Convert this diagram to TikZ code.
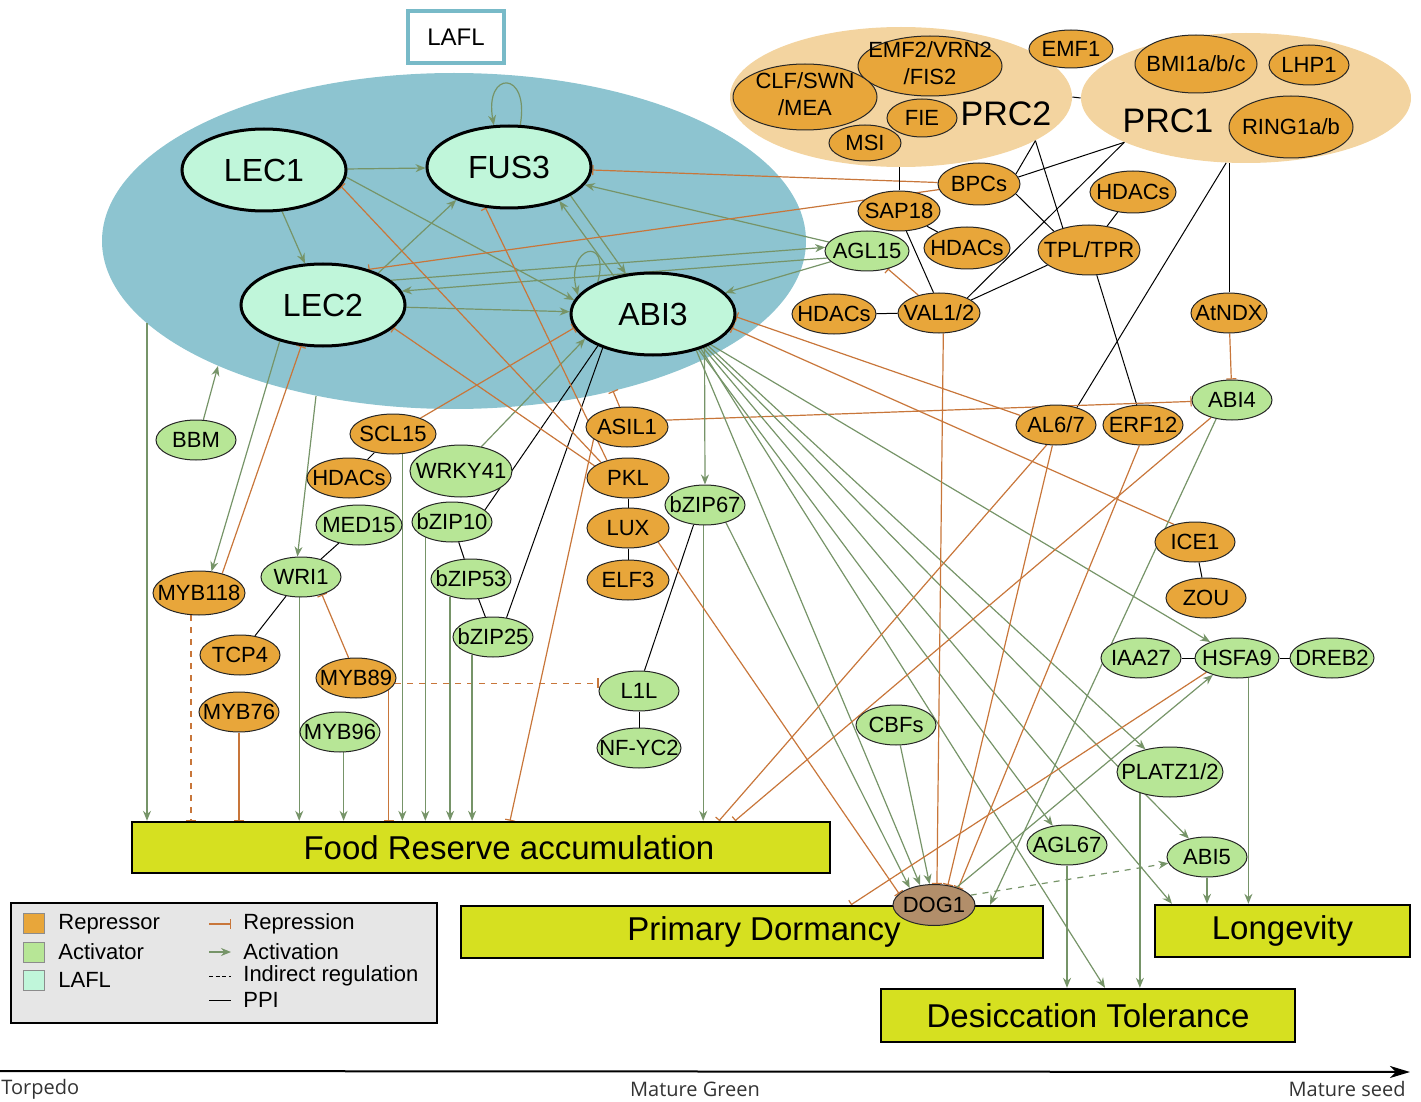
\documentclass[tikz,border=0pt]{standalone}
\usepackage{fontspec}
\setmainfont{Liberation Sans}
\newfontfamily\axisfont{Open Sans}
\usetikzlibrary{arrows.meta,shapes.geometric}

\definecolor{laflgroup}{RGB}{141,196,208}
\definecolor{laflfill}{RGB}{192,246,218}
\definecolor{laflframe}{RGB}{120,186,200}
\definecolor{prcgroup}{RGB}{243,212,160}
\definecolor{repfill}{RGB}{232,166,58}
\definecolor{actfill}{RGB}{183,230,150}
\definecolor{dogfill}{RGB}{178,142,106}
\definecolor{traitfill}{RGB}{214,224,32}
\definecolor{actline}{RGB}{118,148,104}
\definecolor{repline}{RGB}{200,118,58}
\definecolor{legendfill}{RGB}{230,230,230}

\newcommand{\genefont}{\fontsize{11}{13.5}\selectfont}
\newcommand{\corefont}{\fontsize{16}{18}\selectfont}
\newcommand{\traitfont}{\fontsize{16.5}{18}\selectfont}
\newcommand{\twoline}[2]{\begin{tabular}{@{}c@{}}#1\\#2\end{tabular}}

\pgfdeclarelayer{groups}
\pgfdeclarelayer{edges}
\pgfsetlayers{groups,edges,main}

\tikzset{
  gene/.style={ellipse, draw=black!85, line width=0.5pt, inner sep=0pt,
    minimum width=40pt, minimum height=20pt, font=\genefont,
    execute at begin node={\hbox to 0pt\bgroup\hss},
    execute at end node={\hss\egroup}},
  repr/.style={gene, fill=repfill},
  actv/.style={gene, fill=actfill},
  core/.style={ellipse, draw, line width=1.5pt, fill=laflfill, inner sep=0pt,
    minimum width=82pt, minimum height=41pt, font=\corefont},
  cluster/.style={ellipse, inner sep=0pt},
  trait/.style={rectangle, draw, line width=1.2pt, fill=traitfill, inner sep=0pt,
    font=\traitfont},
  act/.style={actline, line width=0.6pt, -{Stealth[length=5pt,width=4pt]}},
  rep/.style={repline, line width=0.6pt, -{Bar[width=5pt]}},
  ppi/.style={black, line width=0.5pt},
  swatch/.style={draw=black!45, line width=0.4pt, minimum width=10.5pt,
    minimum height=10pt, inner sep=0pt},
  keytext/.style={anchor=west, inner sep=0pt, font=\fontsize{11}{13}\selectfont},
  axistext/.style={inner sep=0pt, text=black!80, font=\axisfont\fontsize{10}{12}\selectfont}
}

\begin{document}
\begin{tikzpicture}[x=0.5pt,y=-0.5pt]
\useasboundingbox (0,0) rectangle (1421,1102);

\begin{pgfonlayer}{groups}
  \node[cluster, fill=laflgroup, minimum width=352pt, minimum height=168pt] (lafl) at (454,241) {};
  \node[cluster, fill=prcgroup, minimum width=171pt, minimum height=70pt] (prc2) at (901,97) {};
  \node[cluster, fill=prcgroup, minimum width=165pt, minimum height=65pt] (prc1) at (1246,98) {};
\end{pgfonlayer}

\node[draw=laflframe, line width=2pt, fill=white, minimum width=48pt, minimum height=26pt,
      font=\fontsize{12}{14}\selectfont] (lafl-tag) at (456,37) {LAFL};

\node[core] (lec1) at (264,170) {LEC1};
\node[core] (fus3) at (509,167) {FUS3};
\node[core] (lec2) at (323,305) {LEC2};
\node[core] (abi3) at (653,314) {ABI3};

\node[repr, minimum width=72pt, minimum height=30pt, inner ysep=-6pt] (emf2) at (930,66) {\twoline{EMF2/VRN2}{/FIS2}};
\node[repr, minimum width=72pt, minimum height=33pt, inner ysep=-6pt] (clf) at (805,97) {\twoline{CLF/SWN}{/MEA}};
\node[repr, minimum width=35pt, minimum height=19pt] (fie) at (922,118) {FIE};
\node[repr, minimum width=36pt, minimum height=18pt] (msi) at (865,143) {MSI};
\node[font=\fontsize{17}{20}\selectfont] (prc2-name) at (1006,114) {PRC2};
\node[repr, minimum width=42pt, minimum height=19pt] (emf1) at (1071,49) {EMF1};
\node[repr, minimum width=61pt, minimum height=29pt] (bmi1) at (1196,64) {BMI1a/b/c};
\node[repr] (lhp1) at (1309,65) {LHP1};
\node[repr, minimum width=62pt, minimum height=31pt] (ring1) at (1291,127) {RING1a/b};
\node[font=\fontsize{17}{20}\selectfont] (prc1-name) at (1168,121) {PRC1};

\node[repr, minimum width=41pt, minimum height=21pt] (bpcs) at (979,184) {BPCs};
\node[repr, minimum width=41pt] (sap18) at (899,211) {SAP18};
\node[repr, minimum width=43pt, minimum height=21pt] (hdacs-b) at (1133,192) {HDACs};
\node[repr, minimum width=43pt, minimum height=21pt] (hdacs-c) at (967,248) {HDACs};
\node[repr, minimum width=51pt, minimum height=25pt] (tpl) at (1089,250) {TPL/TPR};
\node[actv, minimum width=42pt] (agl15) at (867,251) {AGL15};
\node[repr, minimum width=42pt] (hdacs-d) at (834,314) {HDACs};
\node[repr, minimum width=41pt] (val12) at (939,313) {VAL1/2};
\node[repr, minimum width=38pt] (atndx) at (1229,313) {AtNDX};
\node[actv] (abi4) at (1232,400) {ABI4};
\node[repr] (al67) at (1056,425) {AL6/7};
\node[repr] (erf12) at (1143,425) {ERF12};
\node[repr] (ice1) at (1195,542) {ICE1};
\node[repr] (zou) at (1206,598) {ZOU};
\node[actv] (iaa27) at (1141,658) {IAA27};
\node[actv, minimum width=42pt] (hsfa9) at (1237,658) {HSFA9};
\node[actv, minimum width=42pt] (dreb2) at (1332,658) {DREB2};
\node[actv] (cbfs) at (896,725) {CBFs};
\node[actv, minimum width=53pt, minimum height=25pt] (platz) at (1170,772) {PLATZ1/2};
\node[actv] (agl67) at (1067,845) {AGL67};
\node[actv] (abi5) at (1207,857) {ABI5};

\node[actv] (bbm) at (196,440) {BBM};
\node[repr, minimum width=43pt] (scl15) at (393,434) {SCL15};
\node[repr, minimum width=42pt] (hdacs-a) at (349,478) {HDACs};
\node[actv, minimum width=51pt, minimum height=26pt] (wrky41) at (461,471) {WRKY41};
\node[actv, minimum width=43pt] (med15) at (359,525) {MED15};
\node[actv] (bzip10) at (452,522) {bZIP10};
\node[actv] (wri1) at (301,577) {WRI1};
\node[actv] (bzip53) at (471,579) {bZIP53};
\node[actv] (bzip25) at (493,637) {bZIP25};
\node[repr, minimum width=46pt, minimum height=22pt] (myb118) at (199,593) {MYB118};
\node[repr] (tcp4) at (240,655) {TCP4};
\node[repr] (myb89) at (356,678) {MYB89};
\node[repr] (myb76) at (239,712) {MYB76};
\node[actv] (myb96) at (340,732) {MYB96};
\node[repr, minimum width=41pt] (asil1) at (627,427) {ASIL1};
\node[repr, minimum width=41pt] (pkl) at (628,478) {PKL};
\node[repr, minimum width=41pt] (lux) at (628,528) {LUX};
\node[repr, minimum width=41pt] (elf3) at (628,580) {ELF3};
\node[actv] (bzip67) at (705,505) {bZIP67};
\node[actv] (l1l) at (639,691) {L1L};
\node[actv, minimum width=42pt] (nfyc2) at (639,748) {NF-YC2};

\node[trait, minimum width=349pt, minimum height=25.5pt] (fr) at (481,847.5) {\hspace*{28pt}Food Reserve accumulation};
\node[trait, minimum width=291pt, minimum height=26pt] (pd) at (752,932) {\hspace*{12pt}Primary Dormancy};
\node[trait, minimum width=127.5pt, minimum height=26pt] (lg) at (1282.5,931) {Longevity};
\node[trait, minimum width=207pt, minimum height=26.5pt] (dt) at (1088,1015.5) {Desiccation Tolerance};
\node[gene, fill=dogfill, minimum width=41pt, minimum height=20.5pt] (dog1) at (934,905) {DOG1};

\coordinate (lafl-fr) at (147,323);
\coordinate (lafl-bbm) at (218,366);
\coordinate (lafl-wri) at (316,396);
\coordinate (lafl-asil) at (613,391);
\coordinate (fr-asil) at (510,0 |- fr.north);
\coordinate (fr-al67) at (719,0 |- fr.north);
\coordinate (fr-abi4) at (735,0 |- fr.north);
\coordinate (pd-hsfa) at (851,0 |- pd.north);
\coordinate (pd-abi4) at (990,0 |- pd.north);
\coordinate (dt-abi3) at (1105,0 |- dt.north);
\coordinate (lg-abi3) at (1172,0 |- lg.north);

\begin{pgfonlayer}{edges}
  \draw[act] (lec1) -- (fus3);
  \draw[act] (lec1) -- (lec2);
  \draw[act] (lec1.-5) -- (abi3.170);
  \draw[act] (lec2.30) -- (fus3.-148);
  \draw[act] (lec2) -- (abi3);
  \draw[act] (fus3.-25) -- (abi3.124);
  \draw[act] (abi3.136) -- (fus3.-34);
  \draw[act] (fus3.75) to[out=80,in=100,distance=28pt] (fus3.110);
  \draw[act] (abi3.150) to[out=75,in=105,distance=25pt] (abi3.166);

  \draw[act] (agl15) -- (fus3);
  \draw[act] (agl15) -- (abi3);
  \draw[act] (lec2.20) -- (agl15.175);
  \draw[act] (agl15.190) -- (lec2.10);
  \draw[rep] (bpcs) -- (fus3);
  \draw[rep] (bpcs) -- (lec2.38);
  \draw[rep] (val12) -- (agl15);

  \draw[ppi] (prc2.east) -- (prc1.west);
  \draw[ppi] (prc2.south -| sap18.north) -- (sap18.north);
  \draw[ppi] (prc2.-18) -- (bpcs.15);
  \draw[ppi] (prc2.-18) -- (tpl.140);
  \draw[ppi] (prc1.-160) -- (bpcs.10);
  \draw[ppi] (prc1.-160) -- (val12.28);
  \draw[ppi] (bpcs.-15) -- (tpl.152);
  \draw[ppi] (tpl.-160) -- (val12.22);
  \draw[ppi] (tpl) -- (hdacs-b);
  \draw[ppi] (sap18) -- (hdacs-c);
  \draw[ppi] (sap18.-70) -- (val12.105);
  \draw[ppi] (hdacs-d) -- (val12);
  \draw[ppi] (tpl) -- (erf12);
  \draw[ppi] (prc1.-107) -- (al67.40);
  \draw[ppi] (prc1.-104) -- (prc1.-104 |- atndx.north);
  \draw[ppi] (ice1) -- (zou);
  \draw[ppi] (iaa27) -- (hsfa9);
  \draw[ppi] (hsfa9) -- (dreb2);

  \draw[rep] (al67.165) -- (abi3.-2);
  \draw[rep] (ice1.140) -- (abi3.-10);
  \draw[rep] (atndx) -- (abi4);
  \draw[rep] (asil1.10) -- (abi4);
  \draw[rep] (asil1.110) -- (lafl-asil);
  \draw[rep] (asil1.-160) -- (fr-asil);

  \draw[act] (abi3.-33) -- (bzip67.north);
  \draw[act] (abi3.-40) -- (dog1.125);
  \draw[act] (abi3.-38) -- (agl67);
  \draw[act] (abi3.-36) -- (dt-abi3);
  \draw[act] (abi3.-34) -- (lg-abi3);
  \draw[act] (abi3.-32) -- (abi5);
  \draw[act] (abi3.-30) -- (platz);
  \draw[act] (abi3.-28) -- (hsfa9);

  \draw[act] (bzip67.-95) -- (bzip67.-95 |- fr.north);
  \draw[act] (bzip67.-40) -- (dog1.145);
  \draw[ppi] (bzip67.-120) -- (l1l.75);
  \draw[ppi] (l1l) -- (nfyc2);
  \draw[act] (cbfs) -- (dog1);
  \draw[rep] (lux.-25) -- (dog1.162);
  \draw[rep] (val12.-78) -- (dog1.82);
  \draw[rep] (al67.-100) -- (dog1.55);
  \draw[rep] (erf12.-100) -- (dog1.35);
  \draw[rep] (al67.-115) -- (fr-al67);
  \draw[rep] (abi4.-140) -- (fr-abi4);
  \draw[act] (abi4.-130) -- (pd-abi4);
  \draw[rep] (hsfa9.-155) -- (pd-hsfa);
  \draw[act] (dog1.38) -- (hsfa9.-145);
  \draw[act, dashed] (dog1.15) -- (abi5);
  \draw[act] (hsfa9.-60) -- (hsfa9.-60 |- lg.north);
  \draw[act] (abi5) -- (abi5 |- lg.north);
  \draw[act] (platz.-145) -- (platz.-145 |- dt.north);
  \draw[act] (agl67) -- (agl67 |- dt.north);

  \draw[act] (bbm.70) -- (lafl-bbm);
  \draw[act] (lafl-fr) -- (lafl-fr |- fr.north);
  \draw[act] (lafl-wri) -- (wri1.100);
  \draw[act] (lec2.-140) -- (myb118.60);
  \draw[rep] (myb118.40) -- (lec2.-118);
  \draw[rep, dashed] (myb118.-110) -- (myb118.-110 |- fr.north);
  \draw[act] (wri1.-95) -- (wri1.-95 |- fr.north);
  \draw[ppi] (tcp4) -- (wri1);
  \draw[ppi] (med15) -- (wri1);
  \draw[rep] (myb89.110) -- (wri1.-40);
  \draw[rep, dashed] (myb89.-8) -- (myb89.-8 -| l1l.west);
  \draw[rep] (myb89.-20) -- (myb89.-20 |- fr.north);
  \draw[rep] (myb76) -- (myb76 |- fr.north);
  \draw[act] (myb96.-80) -- (myb96.-80 |- fr.north);
  \draw[ppi] (scl15) -- (hdacs-a);
  \draw[act] (scl15.-65) -- (scl15.-65 |- fr.north);
  \draw[rep] (scl15.30) -- (abi3.-170);
  \draw[act] (wrky41.50) -- (abi3.-160);
  \draw[ppi] (abi3.-150) -- (bzip10.20);
  \draw[ppi] (abi3.-146) -- (bzip25.55);
  \draw[ppi] (bzip10) -- (bzip53);
  \draw[ppi] (bzip53) -- (bzip25);
  \draw[act] (bzip10.-150) -- (bzip10.-150 |- fr.north);
  \draw[act] (bzip53.-140) -- (bzip53.-140 |- fr.north);
  \draw[act] (bzip25.-140) -- (bzip25.-140 |- fr.north);
  \draw[rep] (pkl.160) -- (lec2.-18);
  \draw[rep] (pkl.150) -- (lec1.-12);
  \draw[rep] (pkl.140) -- (fus3.-120);
  \draw[ppi] (pkl) -- (lux);
  \draw[ppi] (lux) -- (elf3);
\end{pgfonlayer}

\node[draw, line width=1.2pt, fill=legendfill, minimum width=213pt, minimum height=60pt] (legend) at (224,963) {};
\node[swatch, fill=repfill] (sw-rep) at (34,923) {};
\node[swatch, fill=actfill] (sw-act) at (34,952) {};
\node[swatch, fill=laflfill] (sw-lafl) at (34,980) {};
\node[keytext] (key-repressor) at (58,924) {Repressor};
\node[keytext] (key-activator) at (58,952) {Activator};
\node[keytext] (key-lafl) at (58,980) {LAFL};
\node[keytext] (key-rep) at (243,924) {Repression};
\node[keytext] (key-act) at (243,952) {Activation};
\node[keytext] (key-ind) at (243,976) {Indirect regulation};
\node[keytext] (key-ppi) at (243,1000) {PPI};
\draw[rep] ([xshift=-17pt]key-rep.west) -- ([xshift=-6pt]key-rep.west);
\draw[act] ([xshift=-17pt]key-act.west) -- ([xshift=-6pt]key-act.west);
\draw[ppi, dash pattern=on 2pt off 1.3pt] ([xshift=-17pt]key-ind.west) -- ([xshift=-6pt]key-ind.west);
\draw[ppi] ([xshift=-17pt]key-ppi.west) -- ([xshift=-6pt]key-ppi.west);

\coordinate (axis-start) at (0,1071);
\coordinate (axis-end) at (1410,1072);
\draw[line width=1pt, -{Stealth[length=10pt,width=6pt,inset=3pt]}] (axis-start) -- (axis-end);
\node[axistext, anchor=west] (torpedo) at (1,1089) {Torpedo};
\node[axistext] (mature-green) at (695,1089) {Mature Green};
\node[axistext, anchor=east] (mature-seed) at (1406,1089) {Mature seed};
\end{tikzpicture}
\end{document}
